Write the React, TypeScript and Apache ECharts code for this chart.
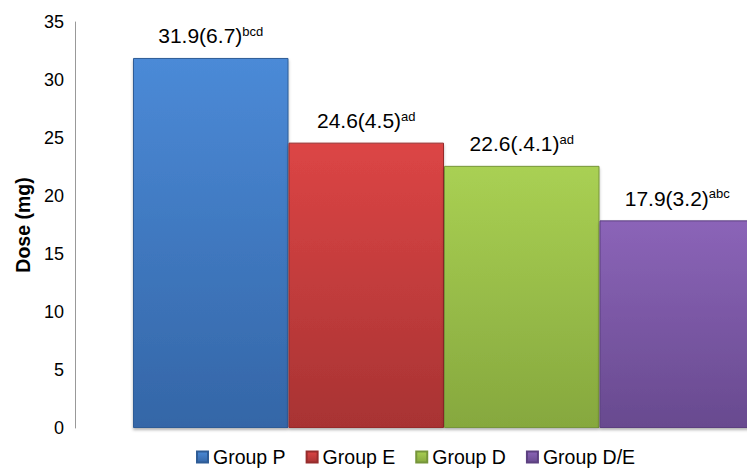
import React, { useEffect, useRef } from "react";
import * as echarts from "echarts";

const groups = ["Group P", "Group E", "Group D", "Group D/E"];
const doses = [31.9, 24.6, 22.6, 17.9];
const sds = ["6.7", "4.5", ".4.1", "3.2"];
const sups = ["bcd", "ad", "ad", "abc"];
const colorsTop = ["#4b8ad7", "#dc4545", "#a9d053", "#8b64b8"];
const colorsBottom = ["#3466a7", "#a83333", "#86a83e", "#684a8f"];
const borders = ["#2e5c96", "#962c2c", "#76953a", "#5c4080"];

export default function App() {
  const ref = useRef<HTMLDivElement>(null);
  useEffect(() => {
    const chart = echarts.init(ref.current!, null, { renderer: "svg" });
    const series = groups.map((g, i) => ({
      name: g,
      type: "bar",
      stack: "all",
      barWidth: "100%",
      data: groups.map((_, j) => (j === i ? doses[i] : "-")),
      itemStyle: {
        color: new echarts.graphic.LinearGradient(0, 0, 0, 1, [
          { offset: 0, color: colorsTop[i] },
          { offset: 1, color: colorsBottom[i] },
        ]),
        borderColor: borders[i],
        borderWidth: 1,
        shadowColor: "rgba(0,0,0,0.3)",
        shadowBlur: 3,
        shadowOffsetY: 2,
      },
      label: {
        show: true,
        position: "top",
        distance: 11,
        formatter: () => `{a|${doses[i]}(${sds[i]})}{s|${sups[i]}}`,
        rich: {
          a: { fontSize: 21, color: "#000", fontFamily: "Liberation Sans" },
          s: { fontSize: 13, color: "#000", fontFamily: "Liberation Sans", padding: [0, 0, 9, 0] },
        },
      },
    }));
    chart.setOption({
      animation: false,
      backgroundColor: "#fff",
      grid: { left: 133, right: -6, top: 22, bottom: 41 },
      legend: {
        data: groups.map((g, i) => ({
          name: g,
          itemStyle: {
            color: new echarts.graphic.LinearGradient(0, 0, 0, 1, [
              { offset: 0, color: colorsTop[i] },
              { offset: 1, color: colorsBottom[i] },
            ]),
          },
        })),
        top: 442,
        left: 191,
        icon: "rect",
        itemWidth: 11,
        itemHeight: 11,
        itemGap: 20,
        textStyle: { fontSize: 19.5, color: "#000", fontFamily: "Liberation Sans" },
      },
      xAxis: {
        type: "category",
        data: groups,
        show: false,
      },
      yAxis: {
        type: "value",
        min: 0,
        max: 35,
        interval: 5,
        offset: 58,
        name: "Dose (mg)",
        nameLocation: "middle",
        nameGap: 41,
        nameTextStyle: { fontSize: 19.5, fontWeight: "bold", color: "#000", fontFamily: "Liberation Sans" },
        axisLine: { show: true, lineStyle: { color: "#999" } },
        axisTick: { show: false },
        splitLine: { show: false },
        axisLabel: { fontSize: 18, color: "#000", margin: 11, fontFamily: "Liberation Sans" },
      },
      series,
    });
    return () => chart.dispose();
  }, []);
  return <div ref={ref} style={{ width: 755, height: 469, marginLeft: -8, marginTop: -8 }} />;
}
